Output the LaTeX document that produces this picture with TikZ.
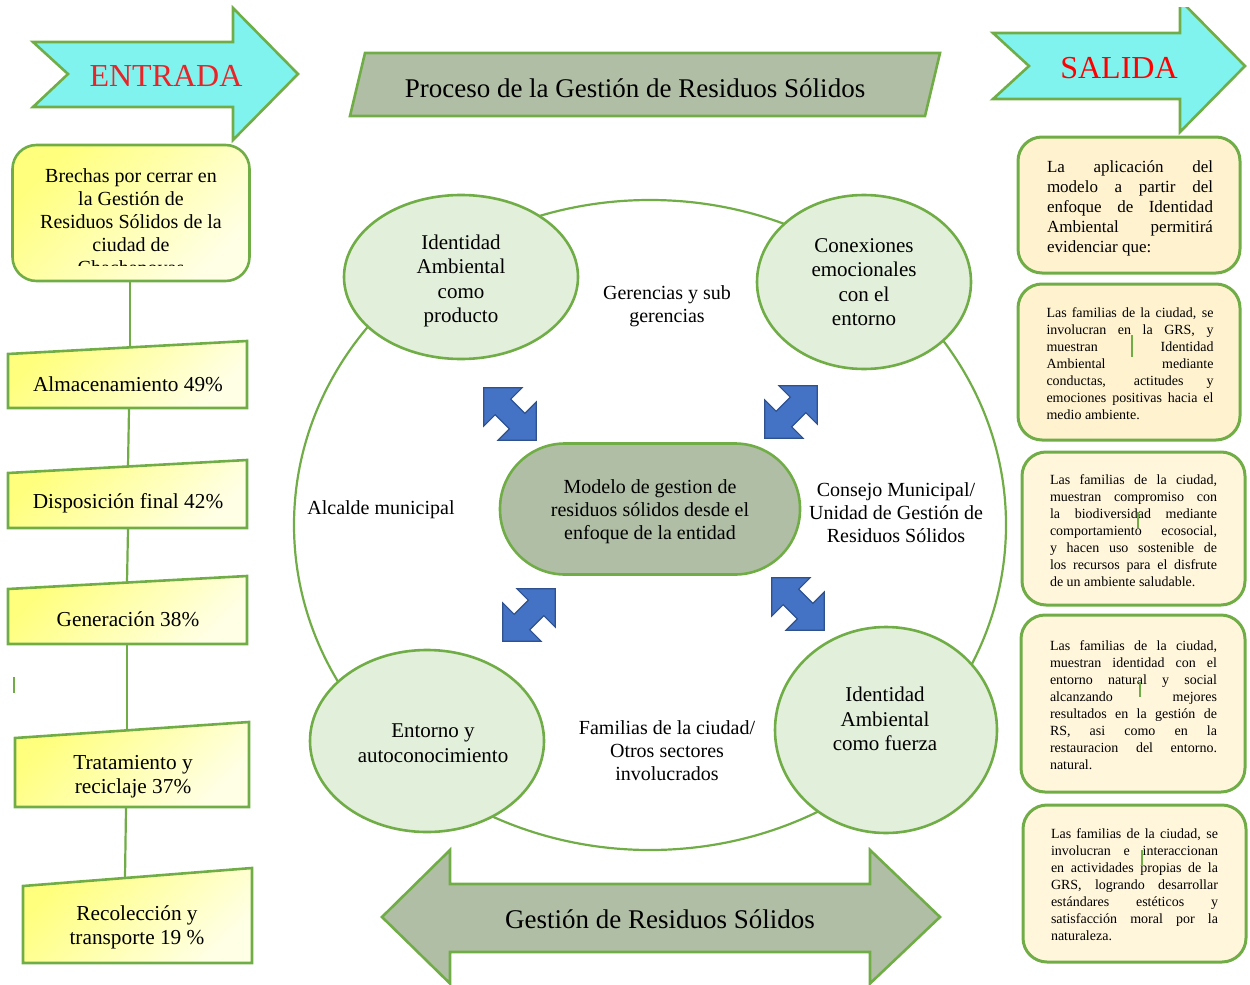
\documentclass[tikz,border=0pt]{standalone}
\usepackage{fontspec}
\setmainfont{Liberation Serif}
\usetikzlibrary{calc,shapes.geometric}
\setlength{\parindent}{0pt}
\definecolor{grn}{RGB}{112,173,71}
\definecolor{aqua}{RGB}{128,243,238}
\definecolor{sage}{RGB}{176,190,165}
\definecolor{palegreen}{RGB}{226,239,218}
\definecolor{cream}{RGB}{255,242,206}
\definecolor{creamlight}{RGB}{255,246,220}
\definecolor{blu}{RGB}{68,114,196}
\definecolor{bluedge}{RGB}{47,82,143}
\definecolor{ylw}{RGB}{255,255,125}
\definecolor{ylwl}{RGB}{255,255,230}
\definecolor{titlered}{RGB}{232,36,40}

% two-headed block arrow centred at #1, turned by #2 degrees
\newcommand\twowayarrow[2]{%
  \begin{scope}[shift={#1}, rotate=#2]
    \draw[bluearrow] (-37,0) -- (-10,-27) -- (-10,-11) -- (10,-11) -- (10,-27)
      -- (37,0) -- (10,27) -- (10,11) -- (-10,11) -- (-10,27) -- cycle;
  \end{scope}}

\begin{document}
\begin{tikzpicture}[x=1pt,y=-1pt,line join=miter,
  outline/.style={draw=grn, line width=2.6pt},
  yellowfill/.style={outline, left color=ylw, right color=ylwl, shading angle=45},
  creambox/.style={draw=grn, line width=3pt, fill=cream, rounded corners=24pt},
  lightbox/.style={draw=grn, line width=3pt, fill=creamlight, rounded corners=24pt},
  bubble/.style={ellipse, draw=grn, line width=2.6pt, fill=palegreen, inner sep=0pt},
  bluearrow/.style={fill=blu, draw=bluedge, line width=1.2pt},
  link/.style={draw=grn, line width=2.2pt},
  tick/.style={draw=grn, line width=2pt},
  txt/.style={font=\fontsize{20}{23}\selectfont, align=center, inner sep=0pt},
  steptxt/.style={font=\fontsize{21.3}{24}\selectfont, align=center, inner sep=0pt},
  bubtxt/.style={font=\fontsize{21}{24.5}\selectfont, align=center, inner sep=0pt},
  note/.style={font=\fontsize{14}{17}\selectfont, text width=167pt, align=justify, inner sep=0pt},
  headword/.style={font=\fontsize{32}{36}\selectfont, text=titlered, inner sep=0pt},
  bigword/.style={font=\fontsize{27}{30}\selectfont, inner sep=0pt}]

\useasboundingbox (0,0) rectangle (1250,985);

% ---- input / output arrows ----
\draw[outline, fill=aqua] (33,42) -- (233,42) -- (233,8) -- (298,74) -- (233,140)
  -- (233,107) -- (33,107) -- (68,74) -- cycle;
\node[headword] (entrada) at (166,76) {ENTRADA};

\begin{scope}
  \clip (980,7) rectangle (1250,150);
  \draw[outline, fill=aqua] (993,33) -- (1180,33) -- (1180,0) -- (1245,66) -- (1180,132)
    -- (1180,99) -- (993,99) -- (1029,66) -- cycle;
\end{scope}
\node[headword, text=red] (salida) at (1119,68) {SALIDA};

% ---- title banner ----
\draw[outline, fill=sage] (365,53) -- (940,53) -- (925,116) -- (350,116) -- cycle;
\node[bigword] (titulo) at (635,88) {Proceso de la Gestión de Residuos Sólidos};

% ---- left column ----
\node[yellowfill, rounded corners=24pt, minimum width=237pt, minimum height=136pt]
  (brechas) at (131,213) {};
\begin{scope}
  \clip (14,147) rectangle (248,265);
  \node[txt] (brechas-t) at (131,224) {Brechas por cerrar en\\la Gestión de\\Residuos Sólidos de la\\ciudad de\\Chachapoyas};
\end{scope}

\path[yellowfill] (8,354) -- (247,341) -- (247,408) -- (8,408) -- cycle;
\node[steptxt] (alm) at (128,384) {Almacenamiento 49\%};
\path[yellowfill] (8,473) -- (247,460) -- (247,528) -- (8,528) -- cycle;
\node[steptxt] (disp) at (128,503) {Disposición final 42\%};
\path[yellowfill] (8,589) -- (247,576) -- (247,644) -- (8,644) -- cycle;
\node[steptxt] (gen) at (128,619) {Generación 38\%};
\path[yellowfill] (15,738) -- (249,722) -- (249,807) -- (15,807) -- cycle;
\node[steptxt] (trat) at (133,777) {Tratamiento y\\reciclaje 37\%};
\path[yellowfill] (23,886) -- (252,868) -- (252,963) -- (23,963) -- cycle;
\node[steptxt] (recol) at (137,927) {Recolección y\\transporte 19 \%};

\coordinate (brechas-out) at (130,281.5);
\coordinate (alm-in) at (130,348);  \coordinate (alm-out) at (129,409);
\coordinate (disp-in) at (128,467); \coordinate (disp-out) at (128,529);
\coordinate (gen-in) at (127,583);  \coordinate (gen-out) at (127,645);
\coordinate (trat-in) at (127,731); \coordinate (trat-out) at (126,808);
\coordinate (recol-in) at (125,878);
\draw[link] (brechas-out) -- (alm-in);
\draw[link] (alm-out) -- (disp-in);
\draw[link] (disp-out) -- (gen-in);
\draw[link] (gen-out) -- (trat-in);
\draw[link] (trat-out) -- (recol-in);
\draw[tick] (14,677) -- (14,693);

% ---- central cycle ----
\node[ellipse, draw=grn, line width=2.2pt, minimum width=712pt, minimum height=650pt]
  (ring) at (650,525) {};

\node[bubble, minimum width=234pt, minimum height=164pt] (e1) at (461,277) {};
\node[bubtxt] (e1-t) at (461,281) {Identidad\\Ambiental\\como\\producto};
\node[bubble, minimum width=214pt, minimum height=174pt] (e2) at (864,282) {};
\node[bubtxt] (e2-t) at (864,282) {Conexiones\\emocionales\\con el\\entorno};
\node[bubble, minimum width=234pt, minimum height=182pt] (e3) at (427,741) {};
\node[bubtxt] (e3-t) at (433,743) {Entorno y\\autoconocimiento};
\node[bubble, minimum width=222pt, minimum height=206pt] (e4) at (886,730) {};
\node[bubtxt] (e4-t) at (885,719) {Identidad\\Ambiental\\como fuerza};

\node[txt] (gerencias) at (667,306) {Gerencias y sub\\gerencias};
\node[txt] (alcalde) at (381,510) {Alcalde municipal};
\node[txt] (consejo) at (896,513) {Consejo Municipal/\\Unidad de Gestión de\\Residuos Sólidos};
\node[txt] (familias) at (667,751) {Familias de la ciudad/\\Otros sectores\\involucrados};

\node[draw=grn, line width=2.6pt, fill=sage, rounded corners=65pt,
  minimum width=300pt, minimum height=131pt] (modelo) at (650,509) {};
\node[txt] (modelo-t) at (650,512) {Modelo de gestion de\\residuos sólidos desde el\\enfoque de la entidad};

\twowayarrow{(510,414)}{-45}
\twowayarrow{(791,412)}{45}
\twowayarrow{(529,615)}{45}
\twowayarrow{(798,604)}{-45}

% ---- bottom banner ----
\draw[outline, fill=sage] (382,917) -- (450,850) -- (450,884) -- (870,884) -- (870,850)
  -- (940,917) -- (870,983.5) -- (870,952) -- (450,952) -- (450,983.5) -- cycle;
\node[bigword] (gestion) at (660,919) {Gestión de Residuos Sólidos};

% ---- right column ----
\node[creambox, minimum width=222pt, minimum height=136pt] (r1) at (1129,205) {};
\node[note, font=\fontsize{17}{20}\selectfont, text width=166pt] (r1-t) at (1130,208)
  {La aplicación del\linebreak modelo a partir del\linebreak enfoque de Identidad\linebreak Ambiental permitirá\linebreak evidenciar que:};

\node[creambox, minimum width=222pt, minimum height=156pt] (r2) at (1129,362) {};
\node[note] (r2-t) at (1130,364)
  {Las familias de la ciudad, se\linebreak involucran en la GRS, y\linebreak muestran Identidad\linebreak Ambiental mediante\linebreak conductas, actitudes y\linebreak emociones positivas hacia el\linebreak medio ambiente.};

\node[lightbox, minimum width=223pt, minimum height=153pt] (r3) at (1133.5,528.5) {};
\node[note] (r3-t) at (1133.5,531)
  {Las familias de la ciudad,\linebreak muestran compromiso con\linebreak la biodiversidad mediante\linebreak comportamiento ecosocial,\linebreak y hacen uso sostenible de\linebreak los recursos para el disfrute\linebreak de un ambiente saludable.};

\node[lightbox, minimum width=224pt, minimum height=177pt] (r4) at (1133,703.5) {};
\node[note] (r4-t) at (1133.5,705.5)
  {Las familias de la ciudad,\linebreak muestran identidad con el\linebreak entorno natural y social\linebreak alcanzando mejores\linebreak resultados en la gestión de\linebreak RS, asi como en la\linebreak restauracion del entorno.\linebreak natural.};

\node[lightbox, minimum width=223pt, minimum height=157pt] (r5) at (1134.5,883.5) {};
\node[note] (r5-t) at (1134.5,885)
  {Las familias de la ciudad, se\linebreak involucran e interaccionan\linebreak en actividades propias de la\linebreak GRS, logrando desarrollar\linebreak estándares estéticos y\linebreak satisfacción moral por la\linebreak naturaleza.};

\draw[tick] (1132,335) -- (1132,357);
\draw[tick] (1138,512) -- (1138,528);
\draw[tick] (1140,682) -- (1140,697);
\draw[tick] (1142,850) -- (1142,865);

\end{tikzpicture}
\end{document}
